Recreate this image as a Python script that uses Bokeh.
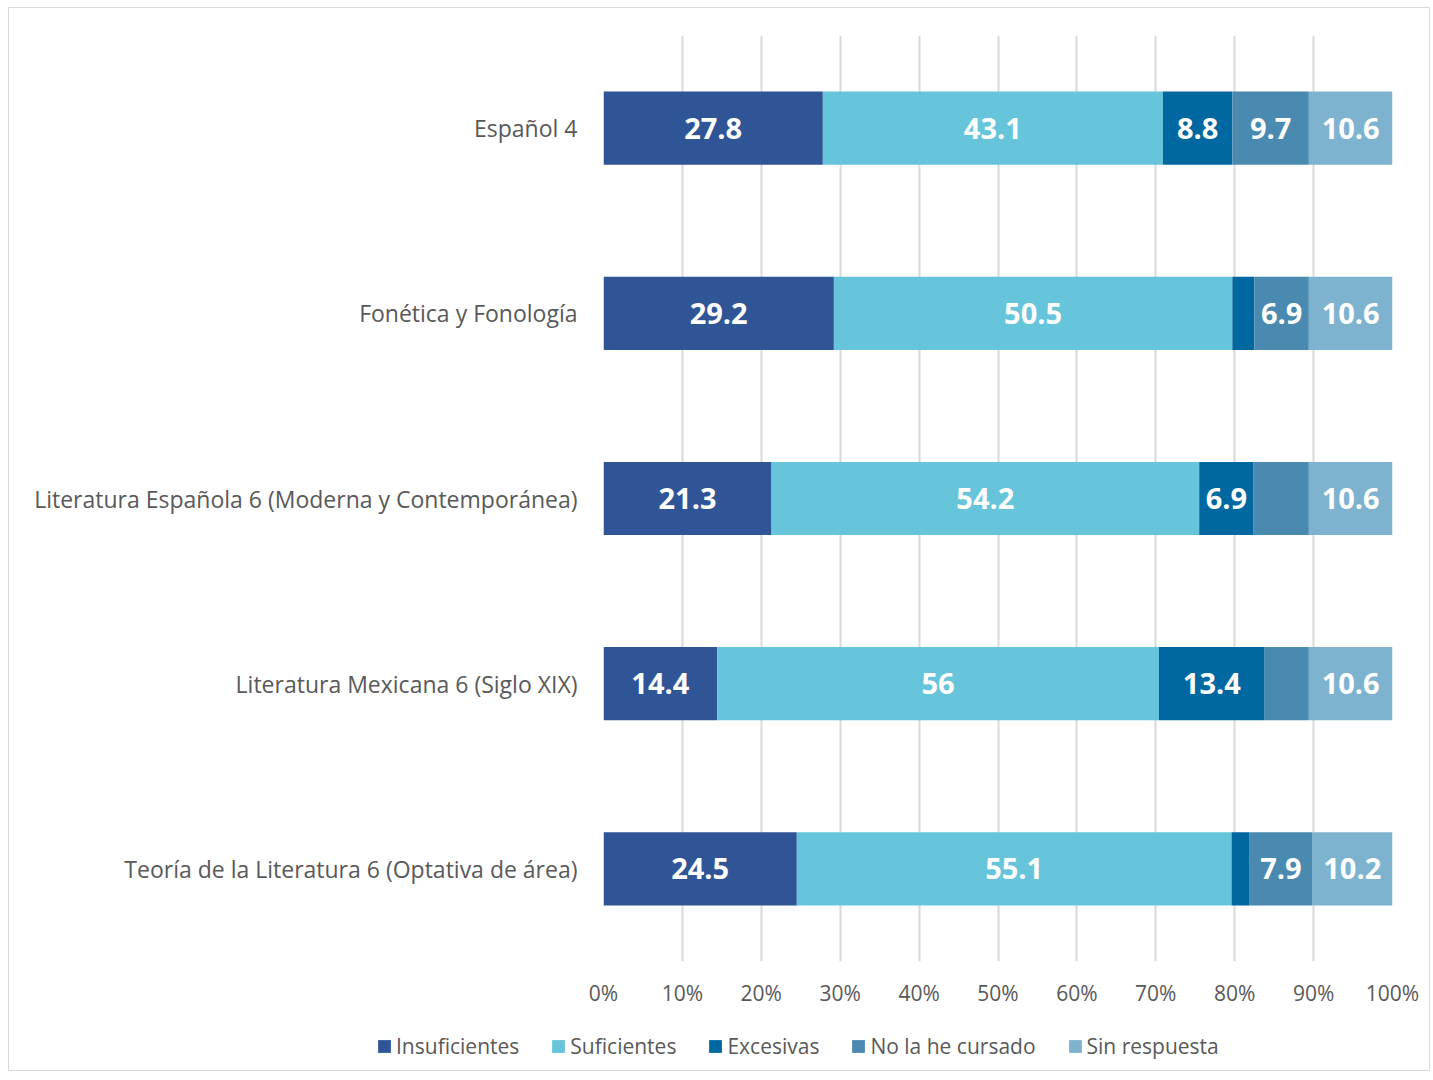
from bokeh.plotting import figure
from bokeh.layouts import column, row
from bokeh.models import ColumnDataSource, FactorRange, Range1d, FixedTicker, PrintfTickFormatter, Legend, LegendItem
from bokeh.core.properties import value
from bokeh.embed import file_html
from bokeh.resources import INLINE

categories = ["Español 4", "Fonética y Fonología",
              "Literatura Española 6 (Moderna y Contemporánea)",
              "Literatura Mexicana 6 (Siglo XIX)",
              "Teoría de la Literatura 6 (Optativa de área)"]
series = ["Insuficientes", "Suficientes", "Excesivas", "No la he cursado", "Sin respuesta"]
insuficientes = [27.8, 29.2, 21.3, 14.4, 24.5]
suficientes = [43.1, 50.5, 54.2, 56.0, 55.1]
excesivas = [8.8, 2.8, 6.9, 13.4, 2.3]
no_cursado = [9.7, 6.9, 7.0, 5.6, 7.9]
sin_respuesta = [10.6, 10.6, 10.6, 10.6, 10.2]
# which data labels are shown in the original (rows = series, columns = categories)
show_labels = [
    [True, True, True, True, True],
    [True, True, True, True, True],
    [True, False, True, True, False],
    [True, True, False, False, True],
    [True, True, True, True, True],
]
colors = ["#2F5597", "#66C5DB", "#0068A0", "#4A8AB0", "#7EB3CF"]
values = [insuficientes, suficientes, excesivas, no_cursado, sin_respuesta]

FONT = "Open Sans"
GRAY = "#595959"
W = 1420

p = figure(width=W, height=1002, output_backend="svg", toolbar_location=None,
           y_range=FactorRange(factors=list(reversed(categories))),
           x_range=Range1d(0, 100),
           min_border_left=594, min_border_right=37, min_border_top=27, min_border_bottom=49)
p.outline_line_color = None

left = [0.0] * len(categories)
for name, vals, col in zip(series, values, colors):
    right = [l + v for l, v in zip(left, vals)]
    src = ColumnDataSource(dict(cat=categories, left=left, right=right))
    p.hbar(y="cat", left="left", right="right", height=0.395, source=src,
           fill_color=col, line_color=None)
    left = right

# data labels
left = [0.0] * len(categories)
lx, ly, lt = [], [], []
for si, vals in enumerate(values):
    for ci, v in enumerate(vals):
        if show_labels[si][ci]:
            lx.append(left[ci] + v / 2)
            ly.append(categories[ci])
            lt.append(f"{v:g}")
    left = [l + v for l, v in zip(left, vals)]
p.text(x=lx, y=ly, text=lt, text_color="white", text_font=value(FONT),
       text_font_style="bold", text_font_size="29px", text_align="center",
       text_baseline="middle")

p.xaxis.ticker = FixedTicker(ticks=list(range(0, 101, 10)))
p.xaxis.formatter = PrintfTickFormatter(format="%d%%")
for ax in (p.xaxis, p.yaxis):
    ax.axis_line_color = None
    ax.major_tick_line_color = None
    ax.minor_tick_line_color = None
    ax.major_label_text_font = FONT
    ax.major_label_text_color = GRAY
p.xaxis.major_label_text_font_size = "21px"
p.yaxis.major_label_text_font_size = "23px"
p.xaxis.major_label_standoff = 11
p.yaxis.major_label_standoff = 20
p.xgrid.grid_line_color = "#d9d9d9"
p.xgrid.grid_line_width = 2
p.ygrid.grid_line_color = None

# legend strip (separate, unaligned figure)
lf = figure(width=W, height=60, output_backend="svg", toolbar_location=None,
            x_range=Range1d(0, 1), y_range=Range1d(0, 1),
            x_axis_type=None, y_axis_type=None, min_border=0)
lf.outline_line_color = None
lf.xgrid.grid_line_color = None
lf.ygrid.grid_line_color = None
items = []
for name, col in zip(series, colors):
    # zero-size proxy bar, only used for the legend swatch
    r = lf.hbar(y=[0.5], left=[0], right=[0], height=0, fill_color=col, line_color=None)
    items.append(LegendItem(label=name, renderers=[r]))
legend = Legend(items=items, orientation="horizontal", location=(367, 10),
                label_text_font=FONT, label_text_font_size="21px",
                label_text_color=GRAY, glyph_width=16, glyph_height=16,
                label_standoff=4, spacing=31, padding=0, margin=0,
                border_line_color=None, background_fill_alpha=0)
lf.add_layout(legend, "center")

layout = column(p, row(lf), spacing=0,
                styles={"border": "1.5px solid #d9d9d9", "margin-left": "8px", "margin-top": "7px"})

open("out.html", "w").write(file_html(layout, INLINE))
